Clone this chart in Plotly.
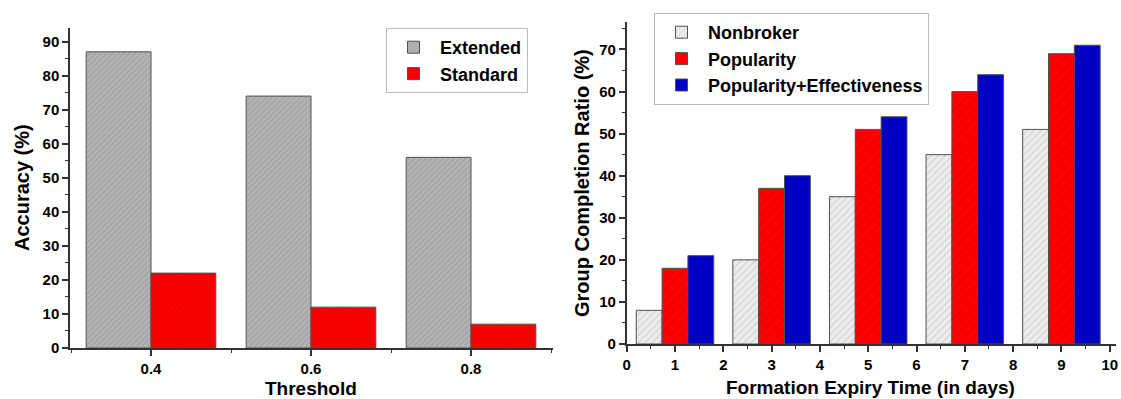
import plotly.graph_objects as go

# Left chart data
thresholds = [0.4, 0.6, 0.8]
extended = [87, 74, 56]
standard = [22, 12, 7]

# Right chart data
expiry_days = [1, 3, 5, 7, 9]
nonbroker = [8, 20, 35, 45, 51]
popularity = [18, 37, 51, 60, 69]
pop_eff = [21, 40, 54, 64, 71]

FONT = "Liberation Sans"
W, H = 1121, 399

fig = go.Figure()

line = dict(color="#505050", width=1)

lw = 0.081
fig.add_trace(go.Bar(
    x=thresholds, y=extended, name="Extended", width=lw, offset=-lw,
    marker=dict(color="#b4b4b4", line=line,
                pattern=dict(shape="/", fgcolor="#8a8a8a", size=4, solidity=0.3)),
    xaxis="x", yaxis="y", legend="legend"))
fig.add_trace(go.Bar(
    x=thresholds, y=standard, name="Standard", width=lw, offset=0.0,
    marker=dict(color="#ff0000", line=line,
                pattern=dict(shape="x", fgcolor="#b00000", size=4, solidity=0.2)),
    xaxis="x", yaxis="y", legend="legend"))

bw = 0.535
fig.add_trace(go.Bar(
    x=expiry_days, y=nonbroker, name="Nonbroker", width=bw, offset=-1.5 * bw,
    marker=dict(color="#ececec", line=line,
                pattern=dict(shape="/", fgcolor="#a8a8a8", size=5, solidity=0.2)),
    xaxis="x2", yaxis="y2", legend="legend2"))
fig.add_trace(go.Bar(
    x=expiry_days, y=popularity, name="Popularity", width=bw, offset=-0.5 * bw,
    marker=dict(color="#ff0000", line=line,
                pattern=dict(shape="/", fgcolor="#a00000", size=7, solidity=0.12)),
    xaxis="x2", yaxis="y2", legend="legend2"))
fig.add_trace(go.Bar(
    x=expiry_days, y=pop_eff, name="Popularity+Effectiveness", width=bw, offset=0.5 * bw,
    marker=dict(color="#0000cc", line=line,
                pattern=dict(shape="+", fgcolor="#000070", size=4, solidity=0.15)),
    xaxis="x2", yaxis="y2", legend="legend2"))


def px_x(p):
    return p / W


def px_y(p):
    return 1 - p / H


tickfont = dict(family=FONT, size=15, color="black", weight="bold")
axis_common = dict(showline=True, linecolor="#333333", linewidth=1.5, ticks="outside",
                   ticklen=6, tickwidth=1.5, tickcolor="#333333", showgrid=False,
                   zeroline=False, tickfont=tickfont, automargin=False)
minor_common = dict(ticks="outside", ticklen=3, tickcolor="#333333", tickwidth=1.2)

fig.update_layout(
    width=W, height=H, margin=dict(l=0, r=0, t=0, b=0),
    paper_bgcolor="white", plot_bgcolor="white", barmode="overlay",
    xaxis=dict(domain=[px_x(70), px_x(553)], range=[0.29875, 0.9025], anchor="y",
               tick0=0.4, dtick=0.2, tickformat=".1f",
               minor=dict(dtick=0.1, tick0=0.3, **minor_common), **axis_common),
    yaxis=dict(domain=[px_y(348), px_y(28)], range=[0, 94], anchor="x",
               dtick=10, minor=dict(dtick=5, **minor_common), **axis_common),
    xaxis2=dict(domain=[px_x(626.7), px_x(1116)], range=[0, 10.13], anchor="y2",
                dtick=1, minor=dict(dtick=0.5, **minor_common), **axis_common),
    yaxis2=dict(domain=[px_y(344), px_y(21.7)], range=[0, 76.6], anchor="x2",
                dtick=10, minor=dict(dtick=5, **minor_common), **axis_common),
    legend=dict(x=px_x(386), y=px_y(28), xanchor="left", yanchor="top",
                bordercolor="#bbbbbb", borderwidth=1, bgcolor="white",
                font=dict(family=FONT, size=18, color="black", weight="bold"),
                tracegroupgap=0, itemwidth=43),
    legend2=dict(x=px_x(654), y=px_y(13), xanchor="left", yanchor="top",
                 bordercolor="#bbbbbb", borderwidth=1, bgcolor="white",
                 font=dict(family=FONT, size=18, color="black", weight="bold"),
                 tracegroupgap=0, itemwidth=43),
)

titlefont_x = dict(family=FONT, size=19, color="black", weight="bold")
titlefont_y = dict(family=FONT, size=20, color="black", weight="bold")
annos = [
    dict(text="Threshold", x=px_x(311), y=px_y(388), font=titlefont_x, textangle=0),
    dict(text="Formation Expiry Time (in days)", x=px_x(870), y=px_y(387), font=titlefont_x, textangle=0),
    dict(text="Accuracy (%)", x=px_x(22), y=px_y(188), font=titlefont_y, textangle=-90),
    dict(text="Group Completion Ratio (%)", x=px_x(582), y=px_y(183), font=titlefont_y, textangle=-90),
]
for a in annos:
    fig.add_annotation(xref="paper", yref="paper", xanchor="center", yanchor="middle",
                       showarrow=False, **a)

fig.write_html("out.html", config={"displayModeBar": False},
               post_script="document.body.style.margin='0';document.body.style.overflow='hidden';")
